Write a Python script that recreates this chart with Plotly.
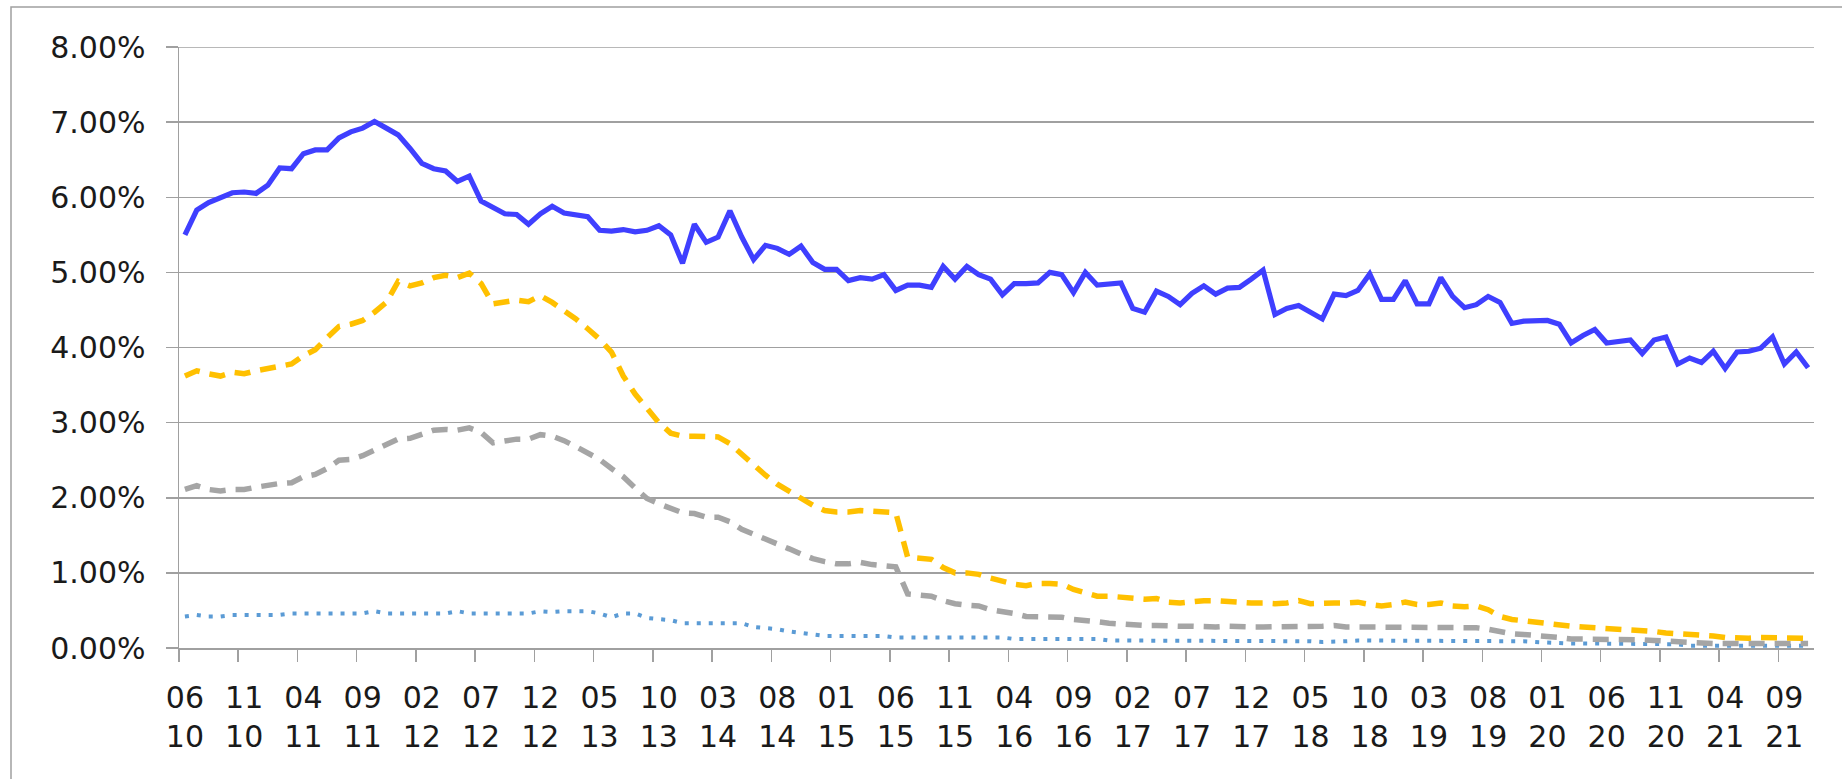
import plotly.graph_objects as go
import pandas as pd

# Months 2010-06 .. 2021-11 (138 monthly points)
months = [p.strftime("%Y-%m") for p in pd.period_range("2010-06", "2021-11", freq="M")]

tick_labels = ["06<br>10", "11<br>10", "04<br>11", "09<br>11", "02<br>12", "07<br>12", "12<br>12",
               "05<br>13", "10<br>13", "03<br>14", "08<br>14", "01<br>15", "06<br>15", "11<br>15",
               "04<br>16", "09<br>16", "02<br>17", "07<br>17", "12<br>17", "05<br>18", "10<br>18",
               "03<br>19", "08<br>19", "01<br>20", "06<br>20", "11<br>20", "04<br>21", "09<br>21"]
tick_months = ["2010-06", "2010-11", "2011-04", "2011-09", "2012-02", "2012-07", "2012-12",
               "2013-05", "2013-10", "2014-03", "2014-08", "2015-01", "2015-06", "2015-11",
               "2016-04", "2016-09", "2017-02", "2017-07", "2017-12", "2018-05", "2018-10",
               "2019-03", "2019-08", "2020-01", "2020-06", "2020-11", "2021-04", "2021-09"]

y_ticks = [0, 1, 2, 3, 4, 5, 6, 7, 8]
y_tick_labels = ["0.00%", "1.00%", "2.00%", "3.00%", "4.00%", "5.00%", "6.00%", "7.00%", "8.00%"]

blue_solid = [
    5.50, 5.83, 5.93, 5.99, 6.06, 6.07, 6.05, 6.16, 6.39, 6.38,
    6.58, 6.63, 6.63, 6.79, 6.87, 6.92, 7.01, 6.92, 6.83, 6.65,
    6.45, 6.38, 6.35, 6.21, 6.28, 5.95, 5.87, 5.78, 5.77, 5.64,
    5.78, 5.88, 5.79, 5.77, 5.74,
    5.56, 5.55, 5.57, 5.54, 5.56, 5.62, 5.50, 5.12, 5.64, 5.40,
    5.47, 5.82, 5.47, 5.17, 5.36, 5.32, 5.24, 5.35, 5.13, 5.04,
    5.04, 4.89, 4.93, 4.91, 4.97, 4.76, 4.83, 4.83, 4.80, 5.08,
    4.91, 5.08, 4.97, 4.91, 4.70,
    4.85, 4.85, 4.86, 5.00, 4.97, 4.73, 5.00, 4.83, 4.85, 4.86,
    4.52, 4.47, 4.75, 4.68, 4.57, 4.72, 4.82, 4.71, 4.79, 4.80,
    4.91, 5.03, 4.44, 4.52, 4.56, 4.47, 4.38, 4.71, 4.69, 4.76,
    4.98, 4.64, 4.64, 4.89,
    4.58, 4.58, 4.93, 4.68, 4.53, 4.57, 4.68, 4.60, 4.32, 4.35,
    4.35, 4.36, 4.31, 4.06, 4.16, 4.24, 4.06, 4.08, 4.10, 3.92,
    4.10, 4.14, 3.78, 3.86, 3.80, 3.95, 3.72, 3.94, 3.95, 3.99,
    4.14, 3.78, 3.94, 3.73,
]

yellow_dash = [
    3.62, 3.69, 3.65, 3.62, 3.67, 3.65, 3.69, 3.72, 3.76, 3.78,
    3.89, 3.97, 4.13, 4.28, 4.31, 4.36, 4.47, 4.60, 4.88, 4.82,
    4.86, 4.93, 4.96, 4.93, 4.99, 4.85, 4.58, 4.61, 4.63, 4.61,
    4.69, 4.60, 4.50, 4.38, 4.25,
    4.11, 3.94, 3.62, 3.38, 3.19, 3.00, 2.86, 2.82, 2.82, 2.82,
    2.81, 2.72, 2.58, 2.42, 2.30, 2.18, 2.08, 1.99, 1.90, 1.83,
    1.81, 1.81, 1.83, 1.82, 1.81, 1.80, 1.21, 1.19, 1.18, 1.07,
    1.00, 1.00, 0.98, 0.93, 0.89,
    0.85, 0.83, 0.86, 0.86, 0.85, 0.78, 0.74, 0.69, 0.69, 0.68,
    0.66, 0.65, 0.66, 0.61, 0.60, 0.62, 0.63, 0.63, 0.62, 0.60,
    0.60, 0.60, 0.59, 0.60, 0.63, 0.59, 0.60, 0.60, 0.60, 0.61,
    0.58, 0.56, 0.58, 0.61,
    0.58, 0.58, 0.60, 0.56, 0.55, 0.56, 0.51, 0.42, 0.38, 0.36,
    0.35, 0.32, 0.30, 0.29, 0.28, 0.27, 0.27, 0.26, 0.25, 0.23,
    0.22, 0.20, 0.19, 0.19, 0.18, 0.16, 0.14, 0.13, 0.13, 0.14,
    0.14, 0.13, 0.13, 0.13,
]

gray_dash = [
    2.11, 2.16, 2.11, 2.09, 2.11, 2.11, 2.14, 2.17, 2.19, 2.20,
    2.28, 2.31, 2.39, 2.50, 2.51, 2.56, 2.63, 2.70, 2.78, 2.79,
    2.84, 2.90, 2.91, 2.90, 2.93, 2.87, 2.73, 2.76, 2.78, 2.78,
    2.84, 2.82, 2.76, 2.68, 2.60,
    2.51, 2.39, 2.28, 2.13, 1.99, 1.92, 1.85, 1.80, 1.79, 1.74,
    1.74, 1.68, 1.58, 1.51, 1.44, 1.37, 1.32, 1.25, 1.19, 1.15,
    1.12, 1.12, 1.14, 1.11, 1.10, 1.08, 0.72, 0.70, 0.69, 0.63,
    0.59, 0.57, 0.56, 0.51, 0.49,
    0.46, 0.42, 0.42, 0.42, 0.41, 0.38, 0.37, 0.35, 0.33, 0.32,
    0.30, 0.30, 0.30, 0.29, 0.29, 0.29, 0.28, 0.28, 0.29, 0.28,
    0.28, 0.28, 0.28, 0.28, 0.28, 0.28, 0.29, 0.30, 0.28, 0.28,
    0.28, 0.28, 0.28, 0.28,
    0.28, 0.28, 0.28, 0.27, 0.27, 0.27, 0.25, 0.22, 0.19, 0.18,
    0.17, 0.16, 0.14, 0.12, 0.12, 0.12, 0.12, 0.12, 0.12, 0.11,
    0.10, 0.09, 0.08, 0.08, 0.07, 0.06, 0.06, 0.06, 0.06, 0.06,
    0.06, 0.06, 0.06, 0.06,
]

lightblue_dot = [
    0.42, 0.44, 0.42, 0.42, 0.44, 0.44, 0.44, 0.44, 0.44, 0.46,
    0.46, 0.46, 0.46, 0.46, 0.46, 0.46, 0.49, 0.46, 0.46, 0.46,
    0.46, 0.46, 0.46, 0.49, 0.46, 0.46, 0.46, 0.46, 0.46, 0.46,
    0.49, 0.48, 0.49, 0.49, 0.49,
    0.46, 0.41, 0.46, 0.46, 0.40, 0.39, 0.37, 0.33, 0.33, 0.33,
    0.33, 0.33, 0.33, 0.28, 0.27, 0.25, 0.22, 0.20, 0.17, 0.16,
    0.16, 0.16, 0.16, 0.16, 0.16, 0.14, 0.14, 0.14, 0.14, 0.14,
    0.14, 0.14, 0.14, 0.14, 0.14,
    0.12, 0.12, 0.12, 0.12, 0.12, 0.12, 0.12, 0.12, 0.10, 0.10,
    0.10, 0.10, 0.10, 0.10, 0.10, 0.10, 0.10, 0.10, 0.10, 0.10,
    0.10, 0.10, 0.10, 0.09, 0.09, 0.09, 0.08, 0.08, 0.09, 0.10,
    0.10, 0.10, 0.10, 0.10,
    0.10, 0.10, 0.10, 0.10, 0.10, 0.10, 0.10, 0.09, 0.09, 0.09,
    0.08, 0.07, 0.06, 0.06, 0.06, 0.06, 0.06, 0.06, 0.06, 0.05,
    0.05, 0.05, 0.05, 0.03, 0.03, 0.03, 0.03, 0.03, 0.03, 0.03,
    0.03, 0.03, 0.03, 0.03,
]

x = list(range(len(months)))
tick_pos = [months.index(m) for m in tick_months]
boundary_pos = [p - 0.5 for p in tick_pos]

GRID = "#a0a0a0"
FONT = "DejaVu Sans"

fig = go.Figure()
fig.add_trace(go.Scatter(x=x, y=lightblue_dot, mode="lines", customdata=months,
                         line=dict(color="#5b9bd5", width=4, dash="4px,8px")))
fig.add_trace(go.Scatter(x=x, y=gray_dash, mode="lines", customdata=months,
                         line=dict(color="#a5a5a5", width=5.5, dash="16px,10px")))
fig.add_trace(go.Scatter(x=x, y=yellow_dash, mode="lines", customdata=months,
                         line=dict(color="#ffc000", width=5.5, dash="16px,10px")))
fig.add_trace(go.Scatter(x=x, y=blue_solid, mode="lines", customdata=months,
                         line=dict(color="#3f3fff", width=5.2)))

W, H = 1842, 779
L, R, T, B = 179, 28, 47, 131
pw, ph = W - L - R, H - T - B

fig.update_layout(
    width=W, height=H,
    margin=dict(l=L, r=R, t=T, b=B, pad=0),
    paper_bgcolor="white", plot_bgcolor="white",
    showlegend=False,
    font=dict(family=FONT, size=30, color="#1a1a1a"),
    xaxis=dict(
        range=[-0.5, len(months) - 0.5],
        tickmode="array", tickvals=tick_pos, ticktext=tick_labels,
        ticks="", showgrid=False, zeroline=False,
        showline=True, linecolor=GRID, linewidth=1.5,
        ticklabelstandoff=22,
        minor=dict(tickmode="array", tickvals=boundary_pos, ticks="outside",
                   ticklen=12, tickwidth=1.5, tickcolor=GRID, showgrid=False),
        fixedrange=True,
    ),
    yaxis=dict(
        range=[y_ticks[0], y_ticks[-1]], tickmode="array",
        tickvals=y_ticks, ticktext=y_tick_labels,
        showgrid=True, gridcolor=GRID, gridwidth=1.5, zeroline=False,
        showline=True, linecolor=GRID, linewidth=1.5,
        ticks="outside", ticklen=12, tickwidth=1.5, tickcolor=GRID,
        ticklabelstandoff=14,
        fixedrange=True,
    ),
    shapes=[
        # outer chart-area border (left and top visible)
        dict(type="rect", xref="paper", yref="paper",
             x0=(11 - L) / pw, x1=(W + 20 - L) / pw,
             y0=-(H - T - ph + 20) / ph, y1=1 + (T - 7) / ph,
             line=dict(color=GRID, width=1.5), fillcolor="rgba(0,0,0,0)", layer="below"),
        # top gridline at the axis maximum
        dict(type="line", xref="paper", yref="y", x0=0, x1=1,
             y0=y_ticks[-1], y1=y_ticks[-1],
             line=dict(color=GRID, width=1.5), layer="below"),
    ],
)

fig.write_html("out.html", include_plotlyjs=True, full_html=True,
               config={"displayModeBar": False, "staticPlot": True},
               post_script="document.body.style.margin='0';document.body.style.overflow='hidden';")
